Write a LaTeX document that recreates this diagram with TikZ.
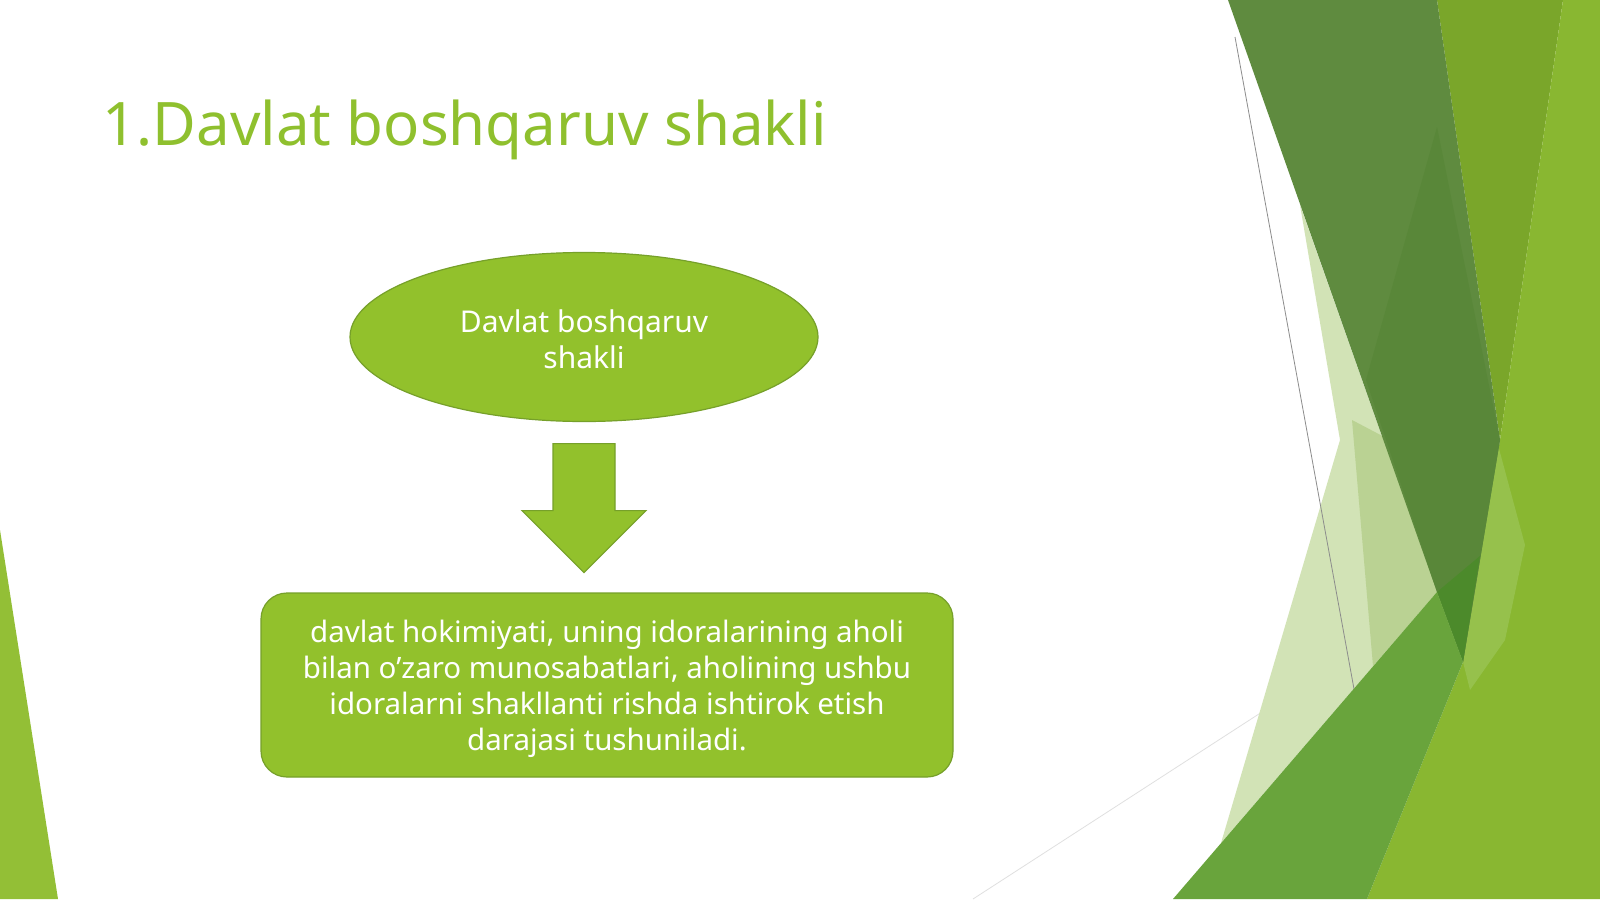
\documentclass[tikz,border=0pt]{standalone}
\usepackage{fontspec}
\setmainfont{Noto Sans}
\usetikzlibrary{shapes.geometric,calc}
\definecolor{lime}{HTML}{92C12C}
\definecolor{limeline}{HTML}{76A02A}
\definecolor{titlegreen}{HTML}{8FC02E}
\definecolor{darkband}{HTML}{5F8B3F}
\definecolor{darkband2}{HTML}{598739}
\definecolor{darkest}{HTML}{4C8A2B}
\definecolor{medstripe}{HTML}{7AA62A}
\definecolor{limeright}{HTML}{89B731}
\definecolor{midband}{HTML}{69A43C}
\definecolor{paleA}{HTML}{D2E3B6}
\definecolor{paleB}{HTML}{BAD293}
\definecolor{lightsliver}{HTML}{96C14C}
\definecolor{lefttri}{HTML}{93BF36}
\tikzset{
  shapebox/.style={fill=lime, draw=limeline, line width=1.2pt},
  shapetext/.style={text=white, align=center, font=\fontsize{30}{36}\selectfont},
}
\begin{document}
\begin{tikzpicture}[x=1pt,y=-1pt]
\useasboundingbox (0,0) rectangle (1600,899);
\fill[white] (0,0) rectangle (1600,899);
% left triangle
\fill[lefttri] (0,530) -- (58,899) -- (0,899) -- cycle;
% faint line B
\draw[color=black!12, line width=0.8pt] (973,899) -- (1350,655);
% pale shapes
\fill[paleA] (1300,205) -- (1340,440) -- (1221,843) -- (1437,592) -- cycle;
\fill[paleB] (1352,420) -- (1390,440) -- (1437,592) -- (1373,666) -- cycle;
% grey line A
\draw[color=black!45, line width=0.8pt] (1235,37) -- (1356,700);
% right stripes
\fill[medstripe] (1437,0) -- (1563,0) -- (1500,440) -- cycle;
\fill[limeright] (1563,0) -- (1600,0) -- (1600,899) -- (1367,899) -- (1463,662) -- (1500,440) -- cycle;
\fill[lightsliver] (1498,445) -- (1525,545) -- (1505,640) -- (1470,690) -- (1463,662) -- cycle;
% dark band
\fill[darkband] (1228,0) -- (1437,0) -- (1500,440) -- (1463,662) -- (1437,592) -- cycle;
\fill[darkband2] (1437,127) -- (1500,440) -- (1463,662) -- (1437,592) -- (1366,380) -- cycle;
\fill[darkest] (1437,592) -- (1480,556) -- (1463,662) -- cycle;
% mid band
\fill[midband] (1173,899) -- (1437,592) -- (1463,662) -- (1367,899) -- cycle;
% title
\node[anchor=base west, inner sep=0, text=titlegreen, font=\fontsize{60}{72}\selectfont] (title) at (102,145) {1.Davlat boshqaruv shakli};
% ellipse
\node[shapebox, shapetext, ellipse, minimum width=468pt, minimum height=169pt, inner sep=0] (top) at (584,337) {\rule{0pt}{28pt}Davlat boshqaruv\\shakli};
% box
\node[shapebox, shapetext, font=\fontsize{29.5}{36}\selectfont, rounded corners=26pt, minimum width=692pt, minimum height=184pt, inner sep=0] (bottom) at (607,685) {\rule{0pt}{31pt}davlat hokimiyati, uning idoralarining aholi\\bilan o’zaro munosabatlari, aholining ushbu\\idoralarni shakllanti rishda ishtirok etish\\darajasi tushuniladi.};
% block arrow
\coordinate (atop) at ($(top.south)+(0,21.5)$);
\coordinate (atip) at ($(top.south)+(0,150.5)$);
\draw[shapebox] ($(atop)+(-31,0)$) -- ($(atop)+(31,0)$) -- ($(atop)+(31,67)$) -- ($(atop)+(62,67)$) -- (atip) -- ($(atop)+(-62,67)$) -- ($(atop)+(-31,67)$) -- cycle;
\end{tikzpicture}
\end{document}
